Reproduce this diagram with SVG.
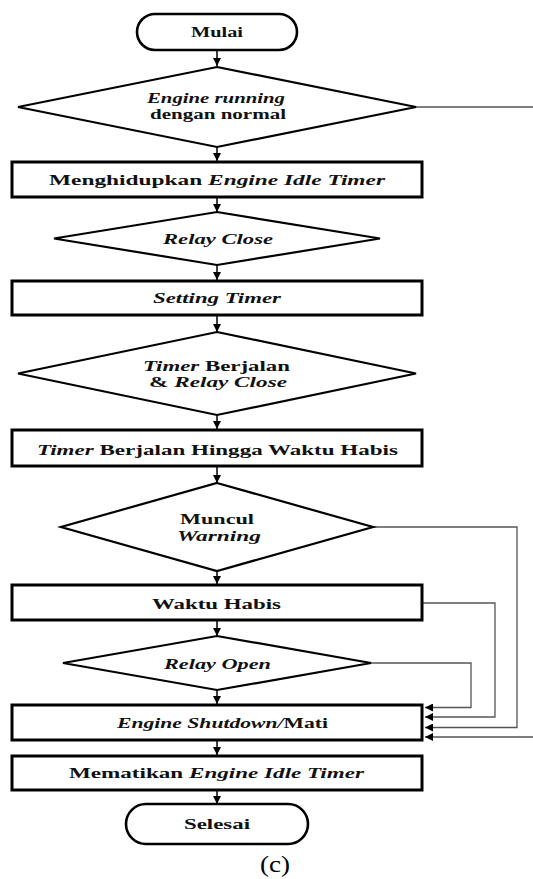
<svg xmlns="http://www.w3.org/2000/svg" width="533" height="879" viewBox="0 0 533 879">
<style>
  .bg{fill:#ffffff}
  .box{fill:#ffffff;stroke:#000;stroke-width:3}
  .dia{fill:#ffffff;stroke:#000;stroke-width:2.2;stroke-linejoin:miter}
  .term{fill:#ffffff;stroke:#000;stroke-width:2.6}
  .t{font-family:'Liberation Serif','Times New Roman',Times,serif;font-weight:700;font-size:14.5px;fill:#111;text-anchor:middle}
  .i{font-style:italic}
  .cap{font-family:'Liberation Serif','Times New Roman',Times,serif;font-size:23px;fill:#000;text-anchor:middle}
  .flow{fill:none;stroke:#000;stroke-width:1.5}
  .back{fill:none;stroke:#555;stroke-width:1.3}
</style>
<defs>
  <marker id="ah" markerUnits="userSpaceOnUse" markerWidth="8" markerHeight="8" refX="8" refY="4" orient="auto">
    <path d="M0,0 L8,4 L0,8 z" fill="#000"/>
  </marker>
</defs>
<rect class="bg" x="0" y="0" width="533" height="879"/>

<g id="connectors">
  <line class="flow" x1="217" y1="50" x2="217" y2="66" marker-end="url(#ah)"/>
  <line class="flow" x1="217" y1="147" x2="217" y2="161" marker-end="url(#ah)"/>
  <line class="flow" x1="217" y1="197" x2="217" y2="212" marker-end="url(#ah)"/>
  <line class="flow" x1="217" y1="265" x2="217" y2="280" marker-end="url(#ah)"/>
  <line class="flow" x1="217" y1="315" x2="217" y2="332" marker-end="url(#ah)"/>
  <line class="flow" x1="217" y1="415" x2="217" y2="429" marker-end="url(#ah)"/>
  <line class="flow" x1="217" y1="466" x2="217" y2="483" marker-end="url(#ah)"/>
  <line class="flow" x1="217" y1="571" x2="217" y2="584" marker-end="url(#ah)"/>
  <line class="flow" x1="217" y1="620" x2="217" y2="636" marker-end="url(#ah)"/>
  <line class="flow" x1="217" y1="690" x2="217" y2="704" marker-end="url(#ah)"/>
  <line class="flow" x1="217" y1="740" x2="217" y2="755" marker-end="url(#ah)"/>
  <line class="flow" x1="217" y1="790" x2="217" y2="804" marker-end="url(#ah)"/>
  <path class="back" d="M371,663 H471 V707.5 H425" marker-end="url(#ah)"/>
  <path class="back" d="M423,603 H495 V717 H425" marker-end="url(#ah)"/>
  <path class="back" d="M373,527 H517 V727.5 H425" marker-end="url(#ah)"/>
  <path class="back" d="M416,107 H545 V737 H425" marker-end="url(#ah)"/>
</g>

<g id="mulai">
  <rect class="term" x="137" y="14" width="160" height="36" rx="18" ry="18"/>
  <text class="t" x="217" y="37" textLength="52" lengthAdjust="spacingAndGlyphs">Mulai</text>
</g>

<g id="engine-running">
  <polygon class="dia" points="217,67 416,107 217,147 18,107"/>
  <text class="t i" x="216" y="102.5" textLength="138" lengthAdjust="spacingAndGlyphs">Engine running</text>
  <text class="t" x="218" y="119" textLength="136" lengthAdjust="spacingAndGlyphs">dengan normal</text>
</g>

<g id="menghidupkan">
  <rect class="box" x="12" y="162" width="410" height="35"/>
  <text class="t" x="217" y="184.5" textLength="336" lengthAdjust="spacingAndGlyphs">Menghidupkan <tspan class="i">Engine Idle Timer</tspan></text>
</g>

<g id="relay-close">
  <polygon class="dia" points="217,212 380,238.5 217,265 54,238.5"/>
  <text class="t i" x="218" y="244" textLength="110" lengthAdjust="spacingAndGlyphs">Relay Close</text>
</g>

<g id="setting-timer">
  <rect class="box" x="12" y="281" width="410" height="34"/>
  <text class="t i" x="217" y="302.5" textLength="128" lengthAdjust="spacingAndGlyphs">Setting Timer</text>
</g>

<g id="timer-berjalan">
  <polygon class="dia" points="217,332 416,373.5 217,415 18,373.5"/>
  <text class="t" x="216.5" y="370.5" textLength="147" lengthAdjust="spacingAndGlyphs"><tspan class="i">Timer</tspan> Berjalan</text>
  <text class="t" x="218" y="387" textLength="138" lengthAdjust="spacingAndGlyphs">&amp; <tspan class="i">Relay Close</tspan></text>
</g>

<g id="hingga-habis">
  <rect class="box" x="12" y="430" width="410" height="36"/>
  <text class="t" x="217.5" y="455" textLength="361" lengthAdjust="spacingAndGlyphs"><tspan class="i">Timer</tspan> Berjalan Hingga Waktu Habis</text>
</g>

<g id="muncul-warning">
  <polygon class="dia" points="217,483 373,527 217,571 61,527"/>
  <text class="t" x="217" y="524" textLength="74" lengthAdjust="spacingAndGlyphs">Muncul</text>
  <text class="t i" x="219" y="541" textLength="84" lengthAdjust="spacingAndGlyphs">Warning</text>
</g>

<g id="waktu-habis">
  <rect class="box" x="12" y="585" width="410" height="35"/>
  <text class="t" x="216.5" y="609" textLength="129" lengthAdjust="spacingAndGlyphs">Waktu Habis</text>
</g>

<g id="relay-open">
  <polygon class="dia" points="217,636 371,663 217,690 63,663"/>
  <text class="t i" x="217.5" y="669" textLength="107" lengthAdjust="spacingAndGlyphs">Relay Open</text>
</g>

<g id="shutdown">
  <rect class="box" x="12" y="705" width="410" height="35"/>
  <text class="t" x="222.5" y="727.5" textLength="211" lengthAdjust="spacingAndGlyphs"><tspan class="i">Engine Shutdown/</tspan>Mati</text>
</g>

<g id="mematikan">
  <rect class="box" x="12" y="756" width="410" height="34"/>
  <text class="t" x="216.5" y="778" textLength="295" lengthAdjust="spacingAndGlyphs">Mematikan <tspan class="i">Engine Idle Timer</tspan></text>
</g>

<g id="selesai">
  <rect class="term" x="126" y="804" width="182" height="40" rx="20" ry="20"/>
  <text class="t" x="217" y="829" textLength="66" lengthAdjust="spacingAndGlyphs">Selesai</text>
</g>

<text class="cap" x="275" y="872" textLength="30" lengthAdjust="spacingAndGlyphs">(c)</text>
</svg>
